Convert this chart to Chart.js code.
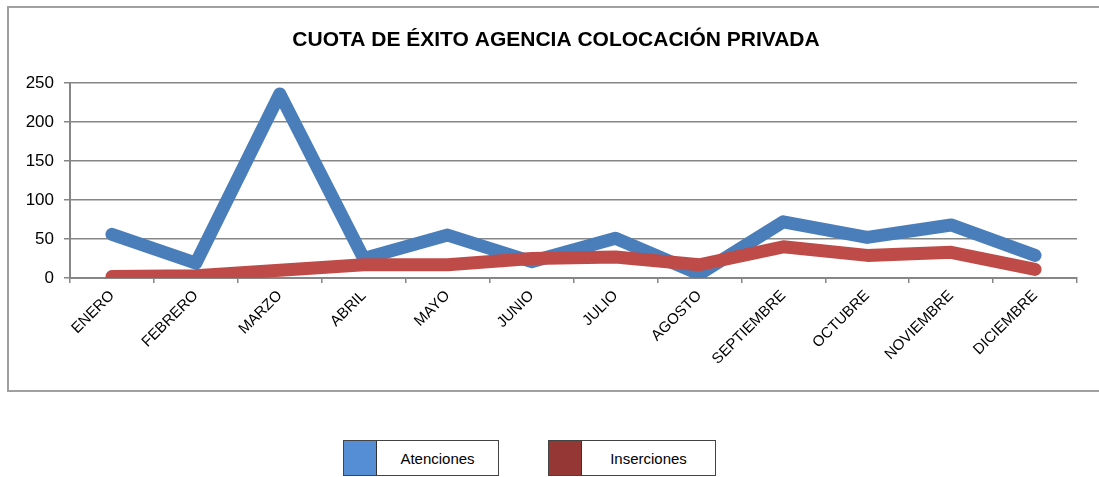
<!DOCTYPE html>
<html>
<head>
<meta charset="utf-8">
<script src="https://cdn.jsdelivr.net/npm/chart.js@4.4.1/dist/chart.umd.min.js"></script>
<style>
  html, body { margin: 0; padding: 0; background: #fff; }
  #wrap { position: relative; width: 1099px; height: 477px; overflow: hidden; }
  .leg { position: absolute; top: 440px; height: 34px; border: 1px solid #444; background: #fff;
         font-family: "Liberation Sans", Arial, sans-serif; font-size: 15px; color: #000; display: flex; }
  .leg .sw { width: 32px; height: 100%; border-right: 1px solid #333; }
  .leg .tx { flex: 1; text-align: center; line-height: 36px; }
</style>
</head>
<body>
<div id="wrap">
  <canvas id="chart" width="1099" height="477"></canvas>
  <div class="leg" style="left:343px;width:154px;"><div class="sw" style="background:#558ED5"></div><div class="tx" id="leg0"></div></div>
  <div class="leg" style="left:548px;width:166px;"><div class="sw" style="background:#953735"></div><div class="tx" id="leg1"></div></div>
</div>
<script>
// datos del gráfico
const titulo = "CUOTA DE ÉXITO AGENCIA COLOCACIÓN PRIVADA";
const meses = ["ENERO", "FEBRERO", "MARZO", "ABRIL", "MAYO", "JUNIO", "JULIO", "AGOSTO", "SEPTIEMBRE", "OCTUBRE", "NOVIEMBRE", "DICIEMBRE"];
const atenciones = [56, 19, 236, 25, 55, 21, 51, 5, 72, 52, 68, 29];
const inserciones = [2, 3, 10, 17, 17, 25, 27, 17, 40, 29, 33, 11];
const nombres = ["Atenciones", "Inserciones"];
const yTicks = [0, 50, 100, 150, 200, 250];

document.getElementById("leg0").textContent = nombres[0];
document.getElementById("leg1").textContent = nombres[1];

// marco y título
const marcoPlugin = {
    id: "marco",
    beforeDraw(chart) {
        const c = chart.ctx;
        c.save();
        c.strokeStyle = "#a0a0a0";
        c.lineWidth = 2;
        c.strokeRect(8, 7, 1100, 384);
        c.restore();
    },
    afterDraw(chart) {
        const c = chart.ctx;
        c.save();
        c.fillStyle = "#000";
        c.font = "bold 21px 'Liberation Sans', Arial, sans-serif";
        c.textAlign = "center";
        c.textBaseline = "middle";
        c.fillText(titulo, 556, 40);
        c.restore();
    }
};

const ctx = document.getElementById("chart").getContext("2d");
const chart = new Chart(ctx, {
    type: "line",
    data: {
        labels: meses,
        datasets: [
            { label: nombres[0], data: atenciones, borderColor: "#4A7EBB", borderWidth: 13,
              pointRadius: 0, fill: false, tension: 0, borderCapStyle: "round", borderJoinStyle: "round", order: 2 },
            { label: nombres[1], data: inserciones, borderColor: "#BE4B48", borderWidth: 13,
              pointRadius: 0, fill: false, tension: 0, borderCapStyle: "round", borderJoinStyle: "round", order: 1 }
        ]
    },
    options: {
        responsive: false,
        animation: false,
        layout: { padding: { left: 8, right: 22, top: 83, bottom: 0 } },
        plugins: {
            legend: { display: false },
            title: { display: false },
            tooltip: { enabled: false }
        },
        scales: {
            x: {
                offset: true,
                afterFit(scale) { scale.height = 199; },
                grid: { offset: true, drawOnChartArea: false, drawTicks: true, tickLength: 5, color: "#868686", lineWidth: 1.5 },
                border: { color: "#868686", width: 2 },
                ticks: { minRotation: 45, maxRotation: 45, color: "#000", padding: 4,
                          font: { family: "'Liberation Sans', Arial, sans-serif", size: 15 } }
            },
            y: {
                min: 0,
                max: 250,
                afterFit(scale) { scale.width = 62; },
                afterBuildTicks(scale) { scale.ticks = yTicks.map(v => ({ value: v })); },
                grid: { color: "#868686", lineWidth: 1.5, tickLength: 6 },
                border: { color: "#868686", width: 2 },
                ticks: { color: "#000", padding: 10,
                          font: { family: "'Liberation Sans', Arial, sans-serif", size: 17 } }
            }
        }
    },
    plugins: [marcoPlugin]
});
</script>
</body>
</html>
